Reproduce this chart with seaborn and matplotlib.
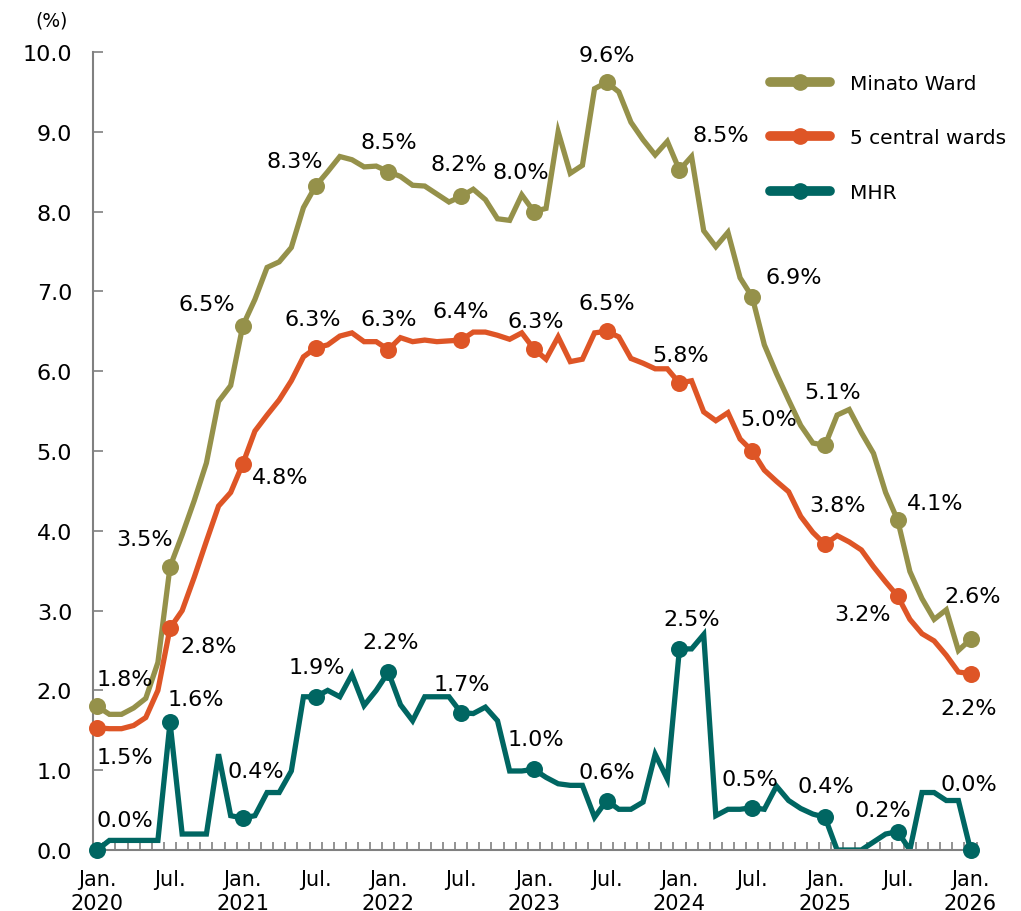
import numpy as np
import pandas as pd
import matplotlib.pyplot as plt
import seaborn as sns
from matplotlib.lines import Line2D

# monthly vacancy rate, Jan 2020 .. Jan 2026 (73 months)
minato = [1.8, 1.7, 1.7, 1.78, 1.9, 2.35, 3.55, 3.95, 4.38, 4.85, 5.62, 5.82,
          6.57, 6.9, 7.3, 7.37, 7.55, 8.05, 8.32, 8.5, 8.69, 8.65, 8.56, 8.57,
          8.5, 8.44, 8.33, 8.32, 8.22, 8.12, 8.19, 8.28, 8.15, 7.91, 7.89, 8.21,
          8.0, 8.04, 9.0, 8.48, 8.58, 9.54, 9.62, 9.5, 9.12, 8.9, 8.71, 8.88,
          8.52, 8.69, 7.76, 7.56, 7.74, 7.17, 6.93, 6.33, 5.97, 5.64, 5.32, 5.1,
          5.07, 5.45, 5.52, 5.23, 4.97, 4.48, 4.13, 3.49, 3.15, 2.89, 3.01, 2.5,
          2.64]
central5 = [1.53, 1.52, 1.52, 1.56, 1.66, 2.0, 2.78, 3.0, 3.42, 3.87, 4.31, 4.48,
            4.84, 5.25, 5.45, 5.64, 5.88, 6.18, 6.29, 6.33, 6.44, 6.48, 6.37, 6.37,
            6.27, 6.42, 6.37, 6.39, 6.37, 6.38, 6.39, 6.49, 6.49, 6.45, 6.4, 6.48,
            6.28, 6.15, 6.43, 6.12, 6.15, 6.48, 6.5, 6.43, 6.16, 6.1, 6.03, 6.03,
            5.85, 5.88, 5.49, 5.38, 5.48, 5.15, 5.0, 4.76, 4.62, 4.49, 4.18, 3.98,
            3.83, 3.94, 3.86, 3.76, 3.55, 3.36, 3.18, 2.89, 2.71, 2.62, 2.44, 2.23,
            2.21]
mhr = [0.0, 0.12, 0.12, 0.12, 0.12, 0.12, 1.6, 0.2, 0.2, 0.2, 1.2, 0.43,
       0.4, 0.43, 0.72, 0.72, 0.99, 1.92, 1.92, 2.0, 1.92, 2.2, 1.81, 2.0,
       2.23, 1.82, 1.62, 1.92, 1.92, 1.92, 1.72, 1.71, 1.79, 1.62, 0.99, 0.99,
       1.01, 0.91, 0.83, 0.81, 0.81, 0.41, 0.62, 0.51, 0.51, 0.6, 1.2, 0.89,
       2.52, 2.52, 2.7, 0.43, 0.51, 0.51, 0.53, 0.51, 0.8, 0.62, 0.52, 0.45,
       0.41, 0.0, 0.0, 0.0, 0.1, 0.2, 0.23, 0.0, 0.72, 0.72, 0.62, 0.62,
       0.0]

series_names = ["Minato Ward", "5 central wards", "MHR"]
colors = ["#95914A", "#DE5526", "#006662"]

# labelled values at Jan / Jul points
labels = {
    "Minato Ward": ["1.8%", "3.5%", "6.5%", "8.3%", "8.5%", "8.2%", "8.0%", "9.6%",
                    "8.5%", "6.9%", "5.1%", "4.1%", "2.6%"],
    "5 central wards": ["1.5%", "2.8%", "4.8%", "6.3%", "6.3%", "6.4%", "6.3%",
                        "6.5%", "5.8%", "5.0%", "3.8%", "3.2%", "2.2%"],
    "MHR": ["0.0%", "1.6%", "0.4%", "1.9%", "2.2%", "1.7%", "1.0%", "0.6%",
            "2.5%", "0.5%", "0.4%", "0.2%", "0.0%"],
}
# label offsets in pixels (dx, dy)
offsets = {
    "Minato Ward": [(28, 27), (-25, 28), (-36, 22), (-21, 25), (0, 30), (-2, 32),
                    (-13, 40), (0, 27), (41, 35), (42, 20), (8, 53), (37, 17), (2, 43)],
    "5 central wards": [(28, -29), (39, -18), (37, -13), (-3, 29), (0, 31), (0, 29),
                        (2, 28), (0, 28), (1, 28), (16, 32), (13, 39), (-35, -18), (-2, -34)],
    "MHR": [(28, 30), (26, 23), (13, 47), (1, 30), (2, 30), (1, 29), (2, 30),
            (0, 29), (12, 30), (-2, 29), (1, 31), (-15, 22), (-2, 66)],
}

months = np.arange(len(minato))
df = pd.DataFrame({
    "month": np.tile(months, 3),
    "rate": minato + central5 + mhr,
    "series": np.repeat(series_names, len(months)),
})

sns.set_style("white")
plt.rcParams["font.family"] = ["DejaVu Sans"]
plt.rcParams["text.color"] = "black"

fig = plt.figure(figsize=(10.21, 9.12), dpi=100)
ax = fig.add_axes([0.0911, 0.0669, 0.866, 0.875])

sns.lineplot(data=df, x="month", y="rate", hue="series", hue_order=series_names,
             palette=colors, linewidth=3.8, legend=False, ax=ax,
             solid_joinstyle="miter")

marks = df[df["month"] % 6 == 0]
for name, col in zip(series_names, colors):
    sub = marks[marks["series"] == name]
    ax.scatter(sub["month"], sub["rate"], s=150, color=col, zorder=5, linewidths=0,
               clip_on=False)
    for (m, v), txt, (dx, dy) in zip(sub[["month", "rate"]].values, labels[name], offsets[name]):
        ax.annotate(txt, (m, v), xytext=(dx, dy), textcoords="offset pixels",
                    ha="center", va="center", fontsize=16, color="black")

ax.set_xlim(-0.35, 72.55)
ax.set_ylim(0, 10)
yt = np.arange(0, 10.01, 1.0)
ax.set_yticks(yt)
ax.set_yticklabels([f"{v:.1f}" for v in yt])
major = np.arange(0, 73, 6)
ticklabels = []
for m in major:
    yr = 2020 + m // 12
    ticklabels.append(f"Jan.\n{yr}" if m % 12 == 0 else "Jul.")
ax.set_xticks(major)
ax.set_xticklabels(ticklabels, linespacing=1.2)
ax.tick_params(axis="x", which="major", bottom=True, length=0, labelsize=15,
               pad=14, labelcolor="black")
# month boundary ticks
ax.set_xticks(np.arange(0.5, 72.6, 1.0), minor=True)
ax.tick_params(axis="x", which="minor", bottom=True, direction="in", length=6,
               width=1.2, color="#808080")
ax.tick_params(axis="y", left=True, direction="in", length=7, width=1.2,
               color="#808080", labelsize=16, pad=15, labelcolor="black")
ax.set_xlabel("")
ax.set_ylabel("")
for s in ["top", "right"]:
    ax.spines[s].set_visible(False)
for s in ["left", "bottom"]:
    ax.spines[s].set_color("#808080")
    ax.spines[s].set_linewidth(1.5)

fig.text(52 / 1021, 1 - 21 / 912, "(%)", ha="center", va="center", fontsize=13.5)

handles = [Line2D([0], [0], color=c, lw=7, marker="o", markersize=11,
                  solid_capstyle="round") for c in colors]
ax.legend(handles, series_names, loc="upper left", bbox_to_anchor=(0.745, 0.995),
          frameon=False, fontsize=14.5, handlelength=3.0, labelspacing=1.75,
          handletextpad=1.0)

fig.savefig("out.png", dpi=100)
